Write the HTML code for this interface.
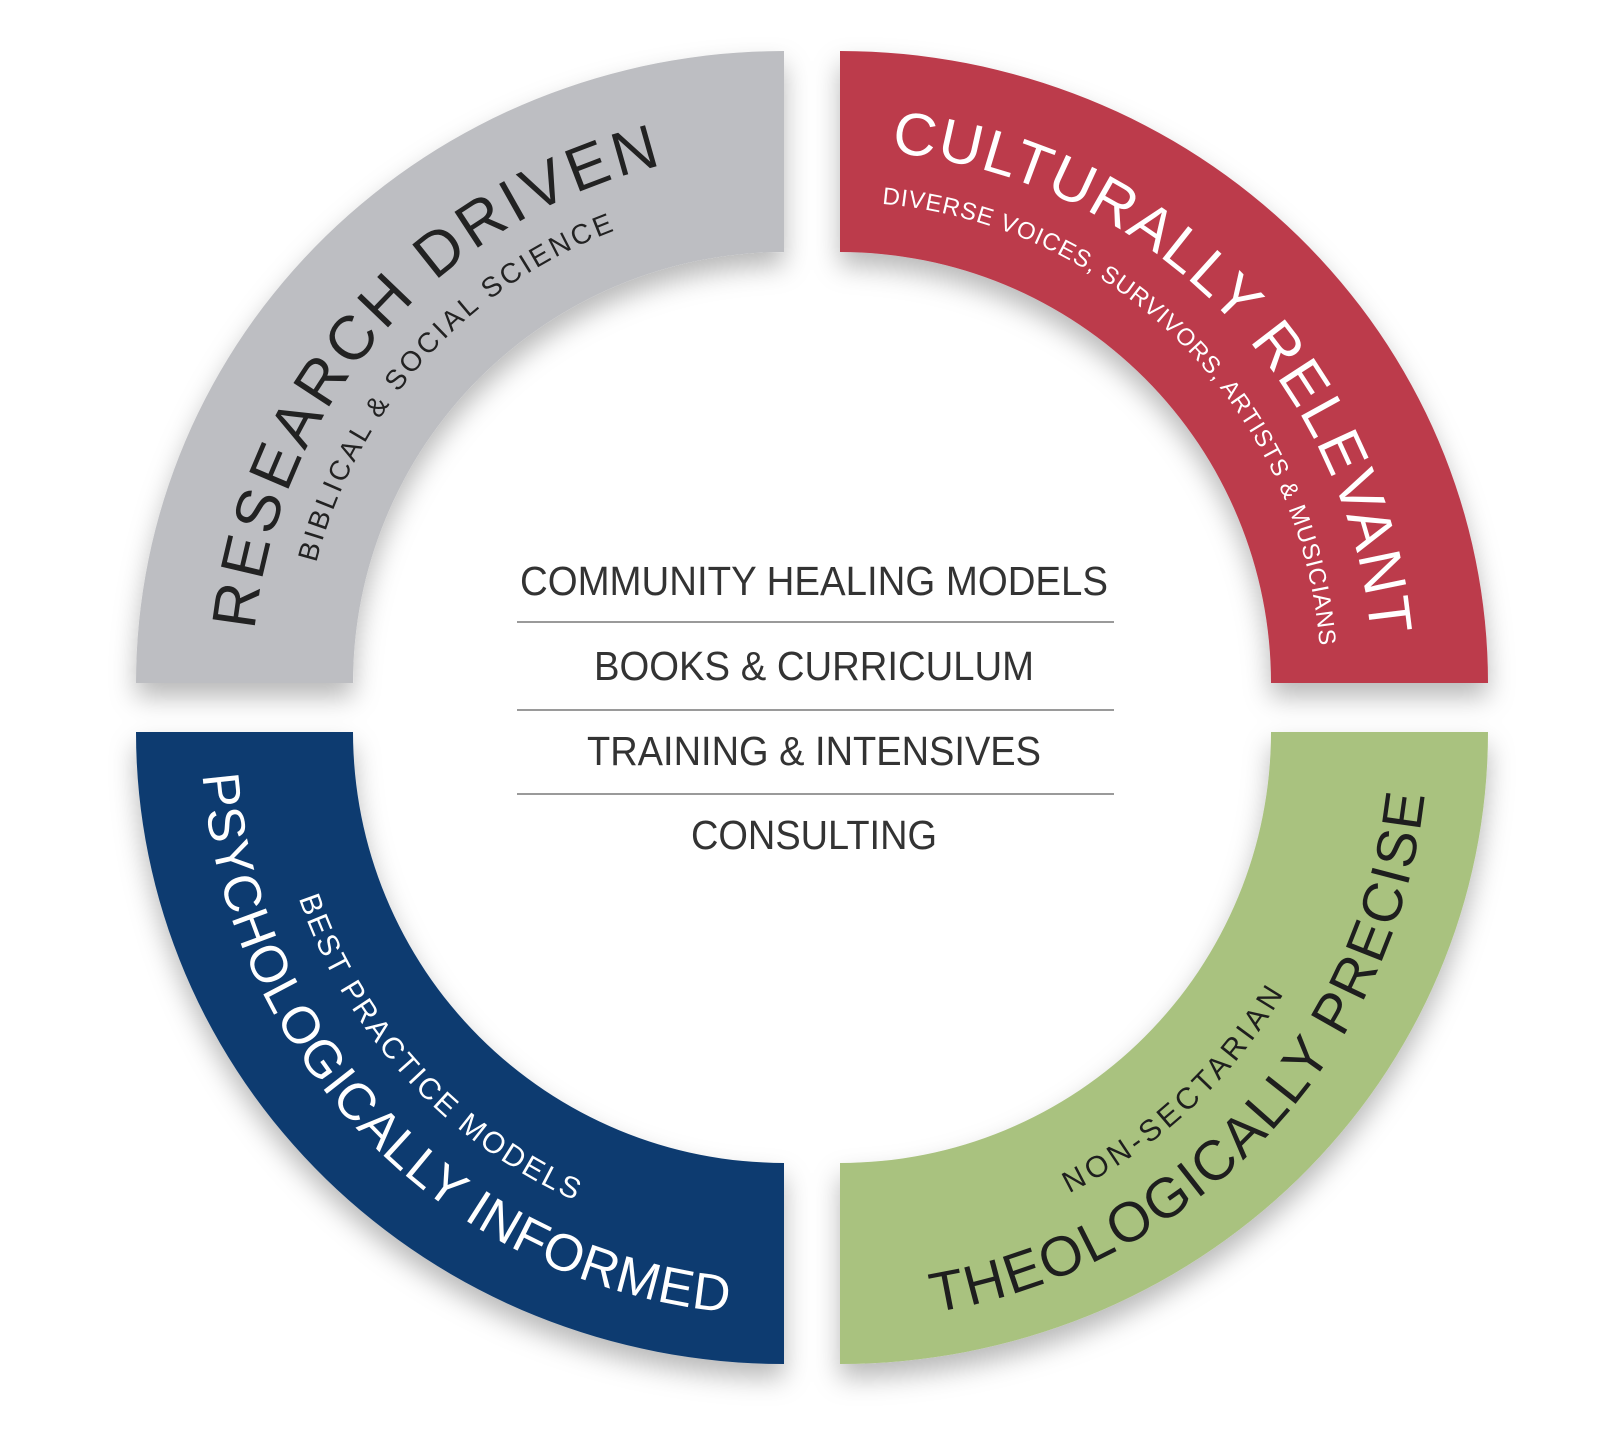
<!DOCTYPE html>
<html><head><meta charset="utf-8"><style>
html,body{margin:0;padding:0;background:#fff;}
svg{display:block;}
text{font-family:"Liberation Sans",sans-serif;}
</style></head><body>
<svg width="1624" height="1440" viewBox="0 0 1624 1440" xmlns="http://www.w3.org/2000/svg">
<defs>
<filter id="sh" x="-20%" y="-20%" width="140%" height="140%">
<feDropShadow dx="0" dy="14" stdDeviation="13" flood-color="#000" flood-opacity="0.28"/>
</filter>
<path id="gm" d="M254.6,630.2 A532,532 0 0 1 661.6,165.3"/>
<path id="gs" d="M316.2,562.9 A483,483 0 0 1 613.3,231.2"/>
<path id="rm" d="M891.1,152.5 A533,533 0 0 1 1370.9,635.6"/>
<path id="rs" d="M881.9,203.8 A481,481 0 0 1 1319.6,646.1"/>
<path id="bm" d="M202.6,774.7 A583,583 0 0 0 728.1,1312.3"/>
<path id="bs" d="M298.7,898.2 A513,513 0 0 0 575.3,1200.7"/>
<path id="nm" d="M934.0,1312.4 A588,588 0 0 0 1424.7,794.5"/>
<path id="ns" d="M1069,1193.3 A515,515 0 0 0 1283.7,993.4"/>
</defs>
<g filter="url(#sh)">
<path d="M136,683 A648,632 0 0 1 784,51 L784,252 A431,431 0 0 0 353,683 Z" fill="#bdbec2"/>
<path d="M840,51 A648,632 0 0 1 1488,683 L1271,683 A431,431 0 0 0 840,252 Z" fill="#bc3a4b"/>
<path d="M136,732 L353,732 A431,431 0 0 0 784,1163 L784,1364 A648,632 0 0 1 136,732 Z" fill="#0b3a6f"/>
<path d="M1271,732 L1488,732 A648,632 0 0 1 840,1364 L840,1163 A431,431 0 0 0 1271,732 Z" fill="#a9c27f"/>
</g>

<text font-size="62" fill="#222"><textPath href="#gm" textLength="659" lengthAdjust="spacing">RESEARCH DRIVEN</textPath></text>
<text font-size="28" fill="#222"><textPath href="#gs" textLength="464" lengthAdjust="spacing">BIBLICAL &amp; SOCIAL SCIENCE</textPath></text>

<text font-size="60" fill="#fff"><textPath href="#rm" textLength="738" lengthAdjust="spacing">CULTURALLY RELEVANT</textPath></text>
<text font-size="24" fill="#fff"><textPath href="#rs" textLength="676" lengthAdjust="spacing">DIVERSE VOICES, SURVIVORS, ARTISTS &amp; MUSICIANS</textPath></text>

<text font-size="52" fill="#fff"><textPath href="#bm" textLength="817" lengthAdjust="spacing">PSYCHOLOGICALLY INFORMED</textPath></text>
<text font-size="30" fill="#fff"><textPath href="#bs" textLength="421" lengthAdjust="spacing">BEST PRACTICE MODELS</textPath></text>

<text font-size="56" fill="#1e1e1e"><textPath href="#nm" textLength="766" lengthAdjust="spacing">THEOLOGICALLY PRECISE</textPath></text>
<text font-size="30" fill="#1e1e1e"><textPath href="#ns" textLength="297" lengthAdjust="spacing">NON-SECTARIAN</textPath></text>

<g fill="#333" font-size="41" text-anchor="middle">
<text x="814" y="595" textLength="588" lengthAdjust="spacingAndGlyphs">COMMUNITY HEALING MODELS</text>
<text x="814" y="680" textLength="440" lengthAdjust="spacingAndGlyphs">BOOKS &amp; CURRICULUM</text>
<text x="814" y="765" textLength="454" lengthAdjust="spacingAndGlyphs">TRAINING &amp; INTENSIVES</text>
<text x="814" y="849" textLength="246" lengthAdjust="spacingAndGlyphs">CONSULTING</text>
</g>
<g stroke="#9a9a9a" stroke-width="2">
<line x1="517" y1="622" x2="1114" y2="622"/>
<line x1="517" y1="710" x2="1114" y2="710"/>
<line x1="517" y1="794" x2="1114" y2="794"/>
</g>
</svg>
</body></html>
